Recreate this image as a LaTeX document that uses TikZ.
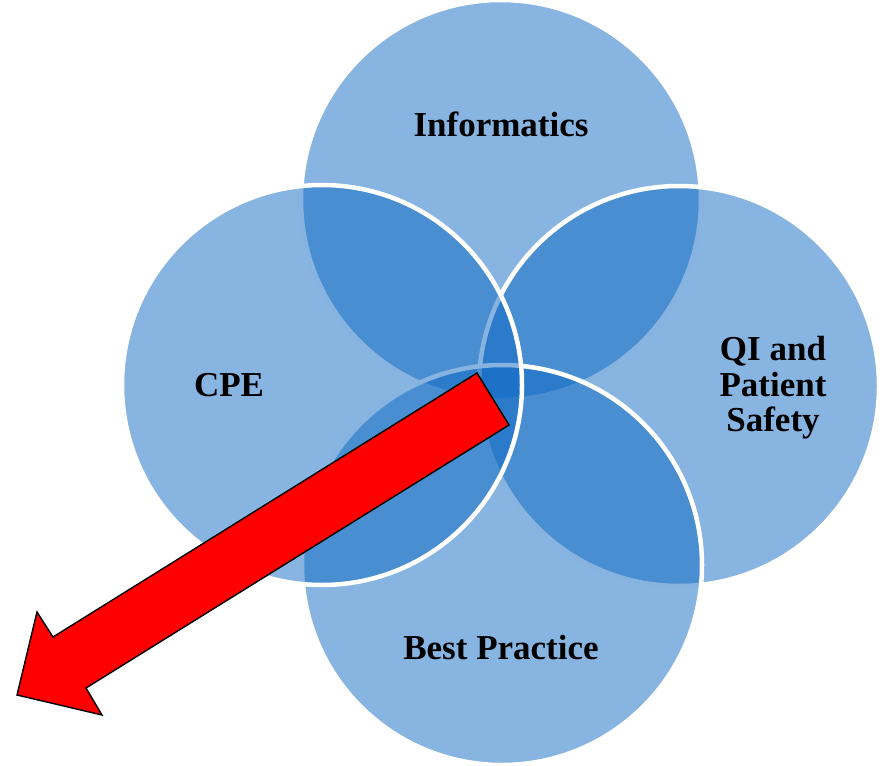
\documentclass[tikz,border=0pt]{standalone}
\usepackage{fontspec}
\setmainfont{Liberation Serif}
\definecolor{vennblue}{RGB}{15,105,195}
\begin{document}
\begin{tikzpicture}[x=1pt,y=-1pt,
  venn/.style={circle, inner sep=0pt, outer sep=0pt, minimum size=400pt,
    fill=vennblue, fill opacity=0.5, draw=white, line width=4.5pt},
  lbl/.style={font=\fontsize{35}{35.5}\selectfont\bfseries, align=center, text=black},
  bigarrow/.style={fill=red, draw=black, line width=1.4pt, line join=miter}]
\useasboundingbox (0,0) rectangle (880,765);
% the four overlapping areas, later ones laid over earlier outlines
\node[venn] (info) at (501,200) {};
\node[venn] (qi)   at (679,386) {};
\node[venn] (best) at (502,565) {};
\node[venn] (cpe)  at (322,385) {};
% labels
\node[lbl] (tinfo) at (501,124) {Informatics};
\node[lbl] (tcpe)  at (229,385) {CPE};
\node[lbl] (tqi)   at (773,388) {QI and\\Patient\\Safety};
\node[lbl] (tbest) at (501,648) {Best Practice};
% block arrow pointing out of the centre
\draw[bigarrow] (477,373) -- (509,425) -- (86,688) -- (102,715) -- (17,695)
  -- (37,612) -- (53,637) -- cycle;
\end{tikzpicture}
\end{document}
